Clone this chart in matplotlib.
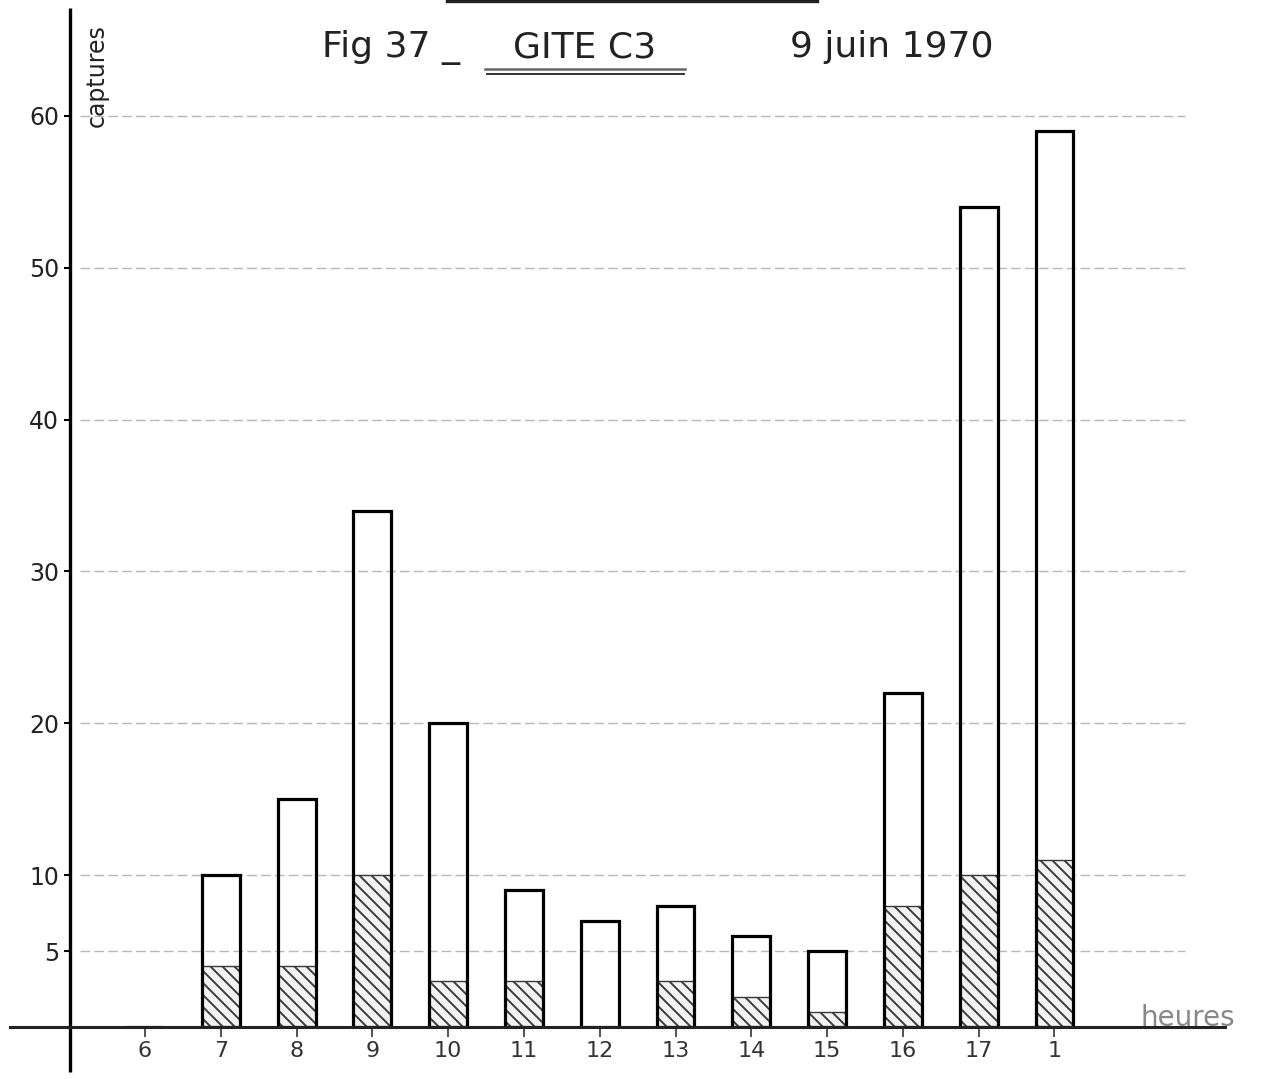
import matplotlib
matplotlib.use("Agg")
import matplotlib.pyplot as plt
from matplotlib.lines import Line2D

# ---- data ----
hours = ["6", "7", "8", "9", "10", "11", "12", "13", "14", "15", "16", "17", "1"]
total_captures = [0, 10, 15, 34, 20, 9, 7, 8, 6, 5, 22, 54, 59]
hatched_captures = [0, 4, 4, 10, 3, 3, 0, 3, 2, 1, 8, 10, 11]
y_ticks = [5, 10, 20, 30, 40, 50, 60]
y_tick_labels = ["5", "10", "20", "30", "40", "50", "60"]

DPI = 72
S = 100 / 72  # point scale so sizes match a 100-dpi layout
plt.rcParams["hatch.linewidth"] = 1.9
plt.rcParams["font.family"] = ["DejaVu Sans"]

W, H = 1267, 1079
fig = plt.figure(figsize=(W / DPI, H / DPI), dpi=DPI)
fig.patch.set_facecolor("white")

# axes: left=70px, right=1225px, bottom=1027px (y=0), top=8px
left, right, bottom, top = 70, 1225, 1027, 8
ax = fig.add_axes([left / W, (H - bottom) / H, (right - left) / W, (bottom - top) / H])
ax.set_facecolor("none")

x = list(range(len(hours)))
ax.set_xlim(-0.99, 14.25)
ax.set_ylim(0, 67.1)

# grid lines (dashed, light)
ax.hlines(y_ticks, -0.86, 13.72, colors="#b8b8b8", linestyles=(0, (7, 3)),
          linewidth=1.0 * S, zorder=0)

# hatched part
ax.bar(x, hatched_captures, width=0.5, color="#f2f2f2", edgecolor="#3a3a3a",
       hatch="\\\\", linewidth=1.0 * S, zorder=2)
# outline of total
ax.bar(x, total_captures, width=0.5, fill=False, edgecolor="black",
       linewidth=2.3 * S, zorder=3)

# spines & axis lines
for s in ax.spines.values():
    s.set_visible(False)
# y axis (extends below x axis)
ax.plot([0, 0], [-2.96, 67.1], transform=ax.get_yaxis_transform(), color="black",
        linewidth=2.4 * S, clip_on=False, zorder=4, solid_capstyle="butt")
# x axis (extends left of y axis)
ax.plot([-0.052, 1.0], [0, 0], transform=ax.transAxes, color="#222222",
        linewidth=2.2 * S, clip_on=False, zorder=4)

ax.set_xticks(x)
ax.set_xticklabels(hours, fontsize=16 * S, color="#333333")
ax.tick_params(axis="x", direction="out", length=7 * S, width=1.3 * S, pad=3 * S,
               color="#444444")
ax.set_yticks(y_ticks)
ax.set_yticklabels(y_tick_labels, fontsize=17 * S, color="#222222")
ax.tick_params(axis="y", direction="out", length=4 * S, width=1.5 * S, pad=4 * S)

# axis labels
ax.text(0.023, 0.934, "captures", transform=ax.transAxes, rotation=90,
        fontsize=17 * S, ha="center", va="center", color="#222222")
fig.text(1188 / W, 1 - 1018 / H, "heures", fontsize=20 * S, ha="center", va="center",
         color="#888888")

# title
base = 1 - 57 / H
fig.text(322 / W, base, "Fig 37 _", fontsize=26 * S, ha="left", va="baseline",
         color="#222222")
fig.text(585 / W, base, "GITE C3", fontsize=26 * S, ha="center", va="baseline",
         color="#222222")
fig.text(790 / W, base, "9 juin 1970", fontsize=26 * S, ha="left", va="baseline",
         color="#222222")

# underlines
fig.add_artist(Line2D([485 / W, 685 / W], [1 - 69 / H, 1 - 69 / H], color="#666666",
                      linewidth=1.8 * S, transform=fig.transFigure))
fig.add_artist(Line2D([487 / W, 684 / W], [1 - 74 / H, 1 - 74 / H], color="#333333",
                      linewidth=1.4 * S, transform=fig.transFigure))
fig.add_artist(Line2D([447 / W, 817 / W], [1 - 1 / H, 1 - 1 / H], color="#222222",
                      linewidth=2.4 * S, transform=fig.transFigure))

fig.savefig("out.png", dpi=DPI, facecolor="white")
